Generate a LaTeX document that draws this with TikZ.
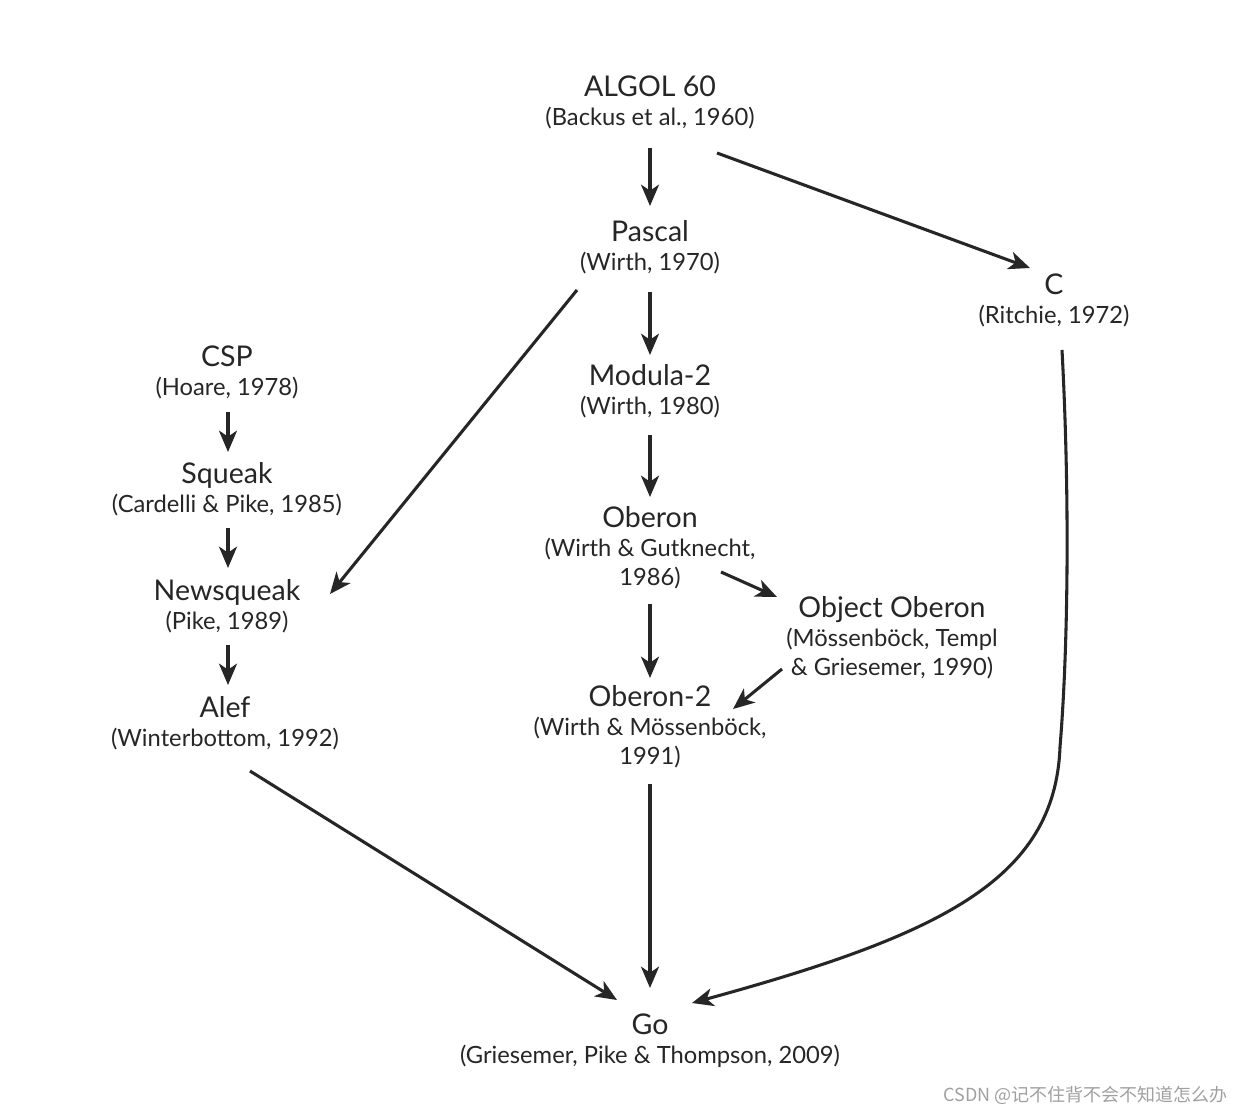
\documentclass[tikz,border=0pt]{standalone}
\usepackage{fontspec}
\setmainfont{Lato}
\newfontfamily\cjkfont{Noto Sans CJK SC}
\usetikzlibrary{arrows.meta}
\definecolor{txt}{HTML}{262626}
\definecolor{ln}{HTML}{262626}
\definecolor{wmgray}{HTML}{A0A0A0}
\newcommand\ttlfont{\fontsize{21.4}{24}\selectfont}
\newcommand\subfont{\fontsize{17.8}{22}\selectfont}
\newcommand\entry[2]{\vtop{\baselineskip=22pt\halign{\hfil##\hfil\cr{\ttlfont #1}\cr #2\crcr}}}
\begin{document}
\begin{tikzpicture}[x=0.75pt,y=-0.75pt,
  lang/.style={anchor=base,inner sep=0pt,text=txt,font=\subfont},
  arr/.style={draw=ln,line width=2.3pt,-{Stealth[length=16pt,width=13.5pt,inset=4.5pt]}}]
\fill[white] (0,0) rectangle (1245,1113);
\useasboundingbox (0,0) rectangle (1245,1113);

\node[lang] (algol) at (650,96) {\entry{ALGOL 60}{(Backus et al., 1960)}};
\node[lang] (pascal) at (650,241) {\entry{Pascal}{(Wirth, 1970)}};
\node[lang] (c) at (1054,294) {\entry{C}{(Ritchie, 1972)}};
\node[lang] (csp) at (227,366) {\entry{CSP}{(Hoare, 1978)}};
\node[lang] (squeak) at (227,483) {\entry{Squeak}{(Cardelli \& Pike, 1985)}};
\node[lang] (newsqueak) at (227,600) {\entry{Newsqueak}{(Pike, 1989)}};
\node[lang] (alef) at (225,717) {\entry{Alef}{(Winterbottom, 1992)}};
\node[lang] (modula) at (650,385) {\entry{Modula-2}{(Wirth, 1980)}};
\node[lang] (oberon) at (650,527) {\entry{Oberon}{(Wirth \& Gutknecht,\cr 1986)}};
\node[lang] (objob) at (892,617) {\entry{Object Oberon}{(Mössenböck, Templ\cr \& Griesemer, 1990)}};
\node[lang] (oberon2) at (650,706) {\entry{Oberon-2}{(Wirth \& Mössenböck,\cr 1991)}};
\node[lang] (go) at (650,1034) {\entry{Go}{(Griesemer, Pike \& Thompson, 2009)}};

\draw[arr] ([shift={(0,52)}]algol.base) -- ([shift={(0,-35)}]pascal.base);
\draw[arr] ([shift={(67,57)}]algol.base) -- ([shift={(-24,-26)}]c.base);
\draw[arr] ([shift={(0,51)}]pascal.base) -- ([shift={(0,-30)}]modula.base);
\draw[arr] ([shift={(-73,49)}]pascal.base) -- ([shift={(103,-6)}]newsqueak.base);
\draw[arr] ([shift={(0,50)}]modula.base) -- ([shift={(0,-30)}]oberon.base);
\draw[arr] ([shift={(71,45)}]oberon.base) -- ([shift={(-115,-20)}]objob.base);
\draw[arr] ([shift={(0,77)}]oberon.base) -- ([shift={(0,-28)}]oberon2.base);
\draw[arr] ([shift={(-110,52)}]objob.base) -- ([shift={(83,3)}]oberon2.base);
\draw[arr] ([shift={(0,78)}]oberon2.base) -- ([shift={(0,-46)}]go.base);
\draw[arr] ([shift={(25,54)}]alef.base) -- ([shift={(-33,-34)}]go.base);
\draw[arr] ([shift={(8,56)}]c.base) .. controls +(8,150) and +(8,-97) .. ([shift={(6,453)}]c.base)
  .. controls +(-5,133) and +(248,-68) .. ([shift={(42,-31)}]go.base);
\draw[arr] ([shift={(1,46)}]csp.base) -- ([shift={(1,-31)}]squeak.base);
\draw[arr] ([shift={(1,45)}]squeak.base) -- ([shift={(1,-32)}]newsqueak.base);
\draw[arr] ([shift={(1,45)}]newsqueak.base) -- ([shift={(3,-32)}]alef.base);

\node[anchor=base east,inner sep=0pt,text=wmgray,font=\cjkfont\fontsize{13.5}{16}\selectfont] (wm) at (1228,1101) {CSDN @记不住背不会不知道怎么办};
\end{tikzpicture}
\end{document}
